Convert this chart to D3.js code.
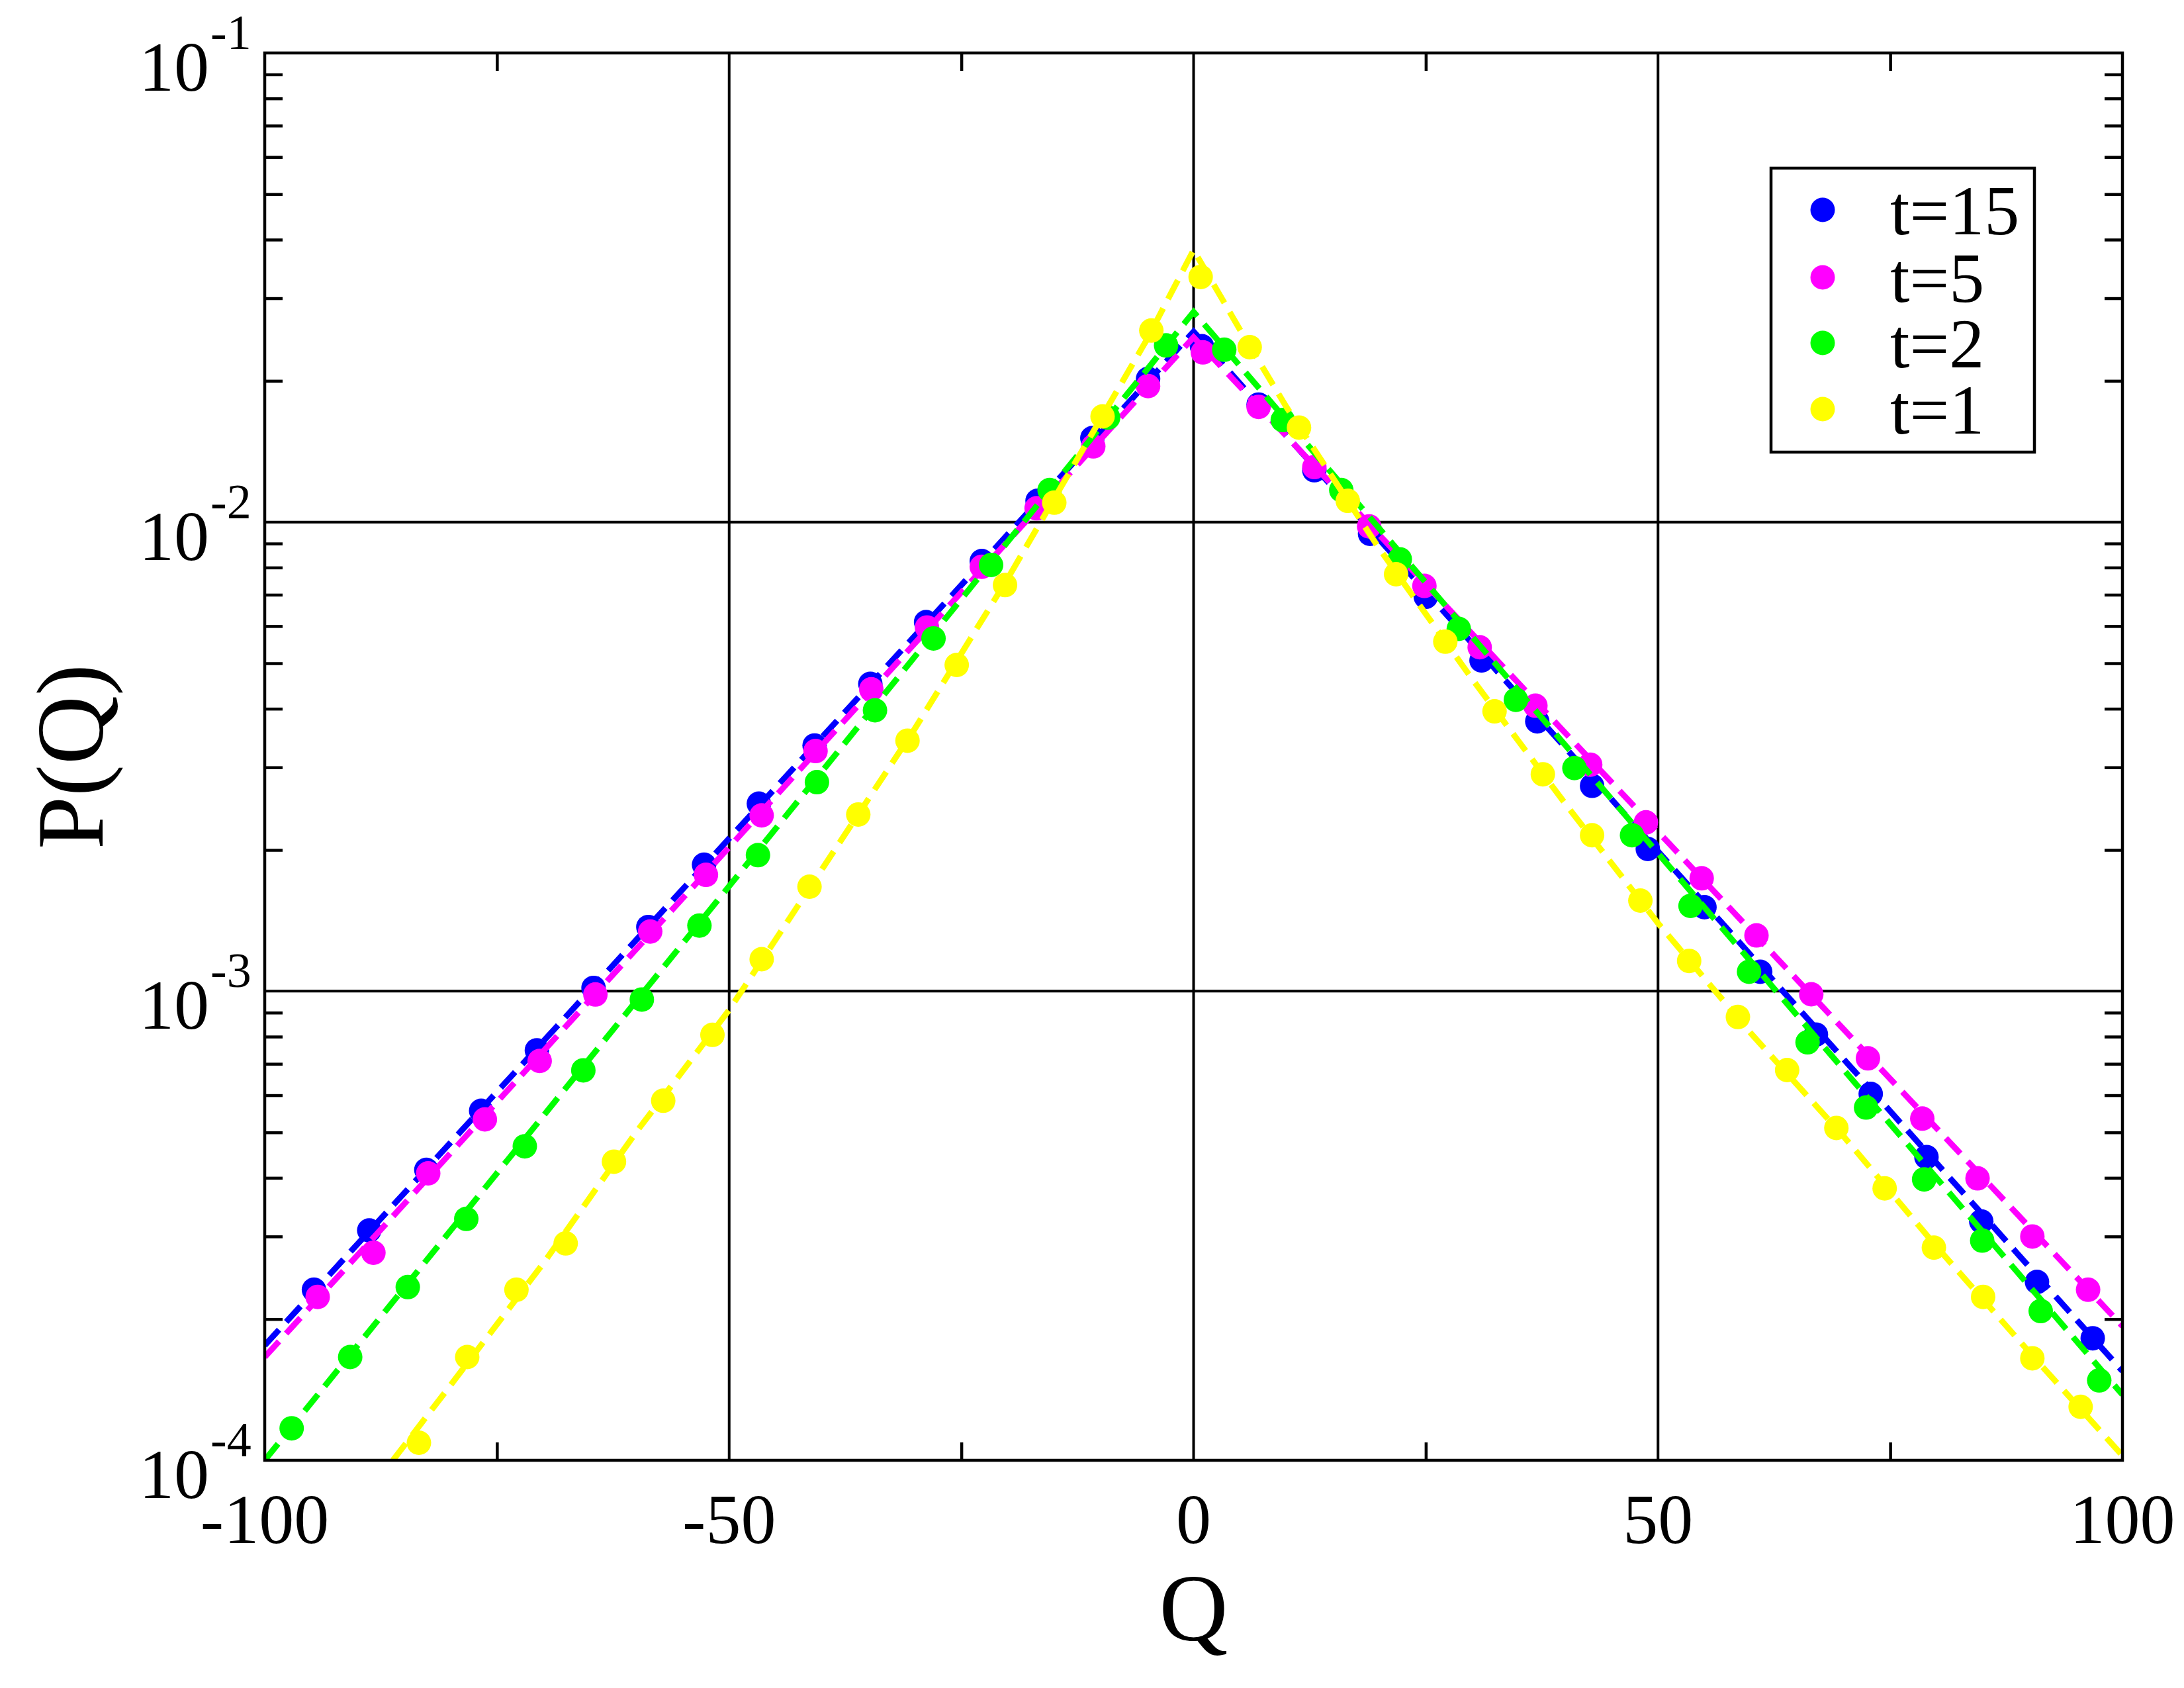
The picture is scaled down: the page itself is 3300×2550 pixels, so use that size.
<!DOCTYPE html>
<html>
<head>
<meta charset="utf-8">
<script src="https://cdn.jsdelivr.net/npm/d3@7"></script>
<style>
  html, body { margin: 0; padding: 0; background: #fff; }
  svg { display: block; }
  text { font-family: "Liberation Serif", "Times New Roman", serif; fill: #000; }
</style>
</head>
<body>
<svg id="chart" width="3300" height="2550"></svg>
<script>
// ---------------- data ----------------
const seriesNames = ["t=15", "t=5", "t=2", "t=1"];
const seriesColors = ["#0000ff", "#ff00ff", "#00ff00", "#ffff00"];

// t=15 (blue)
const q15 = [-94.7, -88.75, -82.6, -76.7, -70.7, -64.6, -58.7, -52.7, -46.8, -40.8, -34.8, -28.8, -22.8, -16.8, -10.9, -4.9, 0.9, 7.0, 13.0, 19.0, 25.0, 31.0, 37.0, 42.9, 48.9, 55.0, 61.0, 67.0, 72.9, 78.9, 84.8, 90.8, 96.8];
const p15 = [2.31e-4, 3.09e-4, 4.16e-4, 5.56e-4, 7.48e-4, 1.016e-3, 1.37e-3, 1.86e-3, 2.51e-3, 3.34e-3, 4.52e-3, 6.12e-3, 8.26e-3, 0.0111, 0.0151, 0.0202, 0.0237, 0.0178, 0.0129, 0.00944, 0.00693, 0.00507, 0.00376, 0.00274, 0.00201, 0.00151, 0.00110, 8.08e-4, 6.04e-4, 4.43e-4, 3.23e-4, 2.40e-4, 1.82e-4];

// t=5 (magenta)
const q5 = [-94.3, -88.3, -82.4, -76.3, -70.4, -64.4, -58.5, -52.5, -46.5, -40.7, -34.7, -28.7, -22.8, -16.9, -10.8, -4.9, 1.0, 7.0, 13.0, 18.9, 24.85, 30.8, 36.8, 42.7, 48.7, 54.7, 60.6, 66.5, 72.6, 78.45, 84.4, 90.3, 96.3];
const p5 = [2.23e-4, 2.77e-4, 4.09e-4, 5.33e-4, 7.1e-4, 9.84e-4, 1.34e-3, 1.77e-3, 2.37e-3, 3.25e-3, 4.40e-3, 5.96e-3, 8.03e-3, 0.0107, 0.0145, 0.0195, 0.0230, 0.0176, 0.0131, 0.00979, 0.00731, 0.00541, 0.00406, 0.00304, 0.00229, 0.00174, 0.001315, 9.85e-4, 7.19e-4, 5.35e-4, 3.99e-4, 3.0e-4, 2.31e-4];

// t=2 (green)
const q2 = [-97.1, -90.8, -84.6, -78.3, -72.0, -65.7, -59.4, -53.2, -46.9, -40.55, -34.3, -28.0, -21.8, -15.5, -9.2, -2.96, 3.3, 9.6, 15.9, 22.2, 28.55, 34.7, 41.0, 47.2, 53.5, 59.8, 66.1, 72.4, 78.65, 84.9, 91.2, 97.5];
const p2 = [1.17e-4, 1.66e-4, 2.34e-4, 3.27e-4, 4.67e-4, 6.78e-4, 9.6e-4, 1.38e-3, 1.95e-3, 2.79e-3, 3.97e-3, 5.65e-3, 8.1e-3, 0.0117, 0.0167, 0.0238, 0.0233, 0.0165, 0.0117, 0.00833, 0.00592, 0.00418, 0.00299, 0.00215, 0.00152, 0.00110, 7.78e-4, 5.65e-4, 3.97e-4, 2.94e-4, 2.08e-4, 1.48e-4];

// t=1 (yellow)
const q1 = [-83.4, -78.2, -72.9, -67.6, -62.4, -57.1, -51.8, -46.5, -41.35, -36.1, -30.8, -25.5, -20.3, -15.0, -9.8, -4.55, 0.76, 6.04, 11.35, 16.6, 21.8, 27.1, 32.4, 37.6, 42.9, 48.1, 53.35, 58.6, 63.9, 69.2, 74.4, 79.7, 85.0, 90.3, 95.5];
const p1 = [1.09e-4, 1.66e-4, 2.31e-4, 2.90e-4, 4.33e-4, 5.84e-4, 8.07e-4, 1.17e-3, 1.67e-3, 2.38e-3, 3.42e-3, 4.96e-3, 7.34e-3, 0.0110, 0.0168, 0.0256, 0.0333, 0.0236, 0.0159, 0.0111, 0.00774, 0.00556, 0.00395, 0.0029, 0.00215, 0.00156, 0.00116, 8.81e-4, 6.79e-4, 5.11e-4, 3.80e-4, 2.84e-4, 2.23e-4, 1.65e-4, 1.30e-4];

// fitted (dashed) curves: vertices [Q, P]
const fit15 = [[-100, 1.758e-4], [0, 0.02547], [100, 1.549e-4]];
const fit5  = [[-100, 1.660e-4], [0, 0.02477], [100, 1.932e-4]];
const fit2  = [[-100, 1.0e-4],   [0, 0.02805], [100, 1.380e-4]];
const fit1  = [[-86.2, 1.0e-4], [-80, 1.445e-4], [-70, 2.630e-4], [-60, 5.01e-4], [-50, 9.12e-4],
               [-40, 1.820e-3], [-30, 3.631e-3], [-20, 7.586e-3], [-10, 0.01660], [-5, 0.02455],
               [0, 0.03802], [5, 0.02570], [10, 0.01758], [20, 8.77e-3], [30, 4.624e-3],
               [40, 2.512e-3], [50, 1.396e-3], [60, 8.13e-4], [70, 4.898e-4], [80, 2.851e-4],
               [90, 1.698e-4], [100, 1.023e-4]];

const xTickValues = [-100, -50, 0, 50, 100];
const xTickLabels = ["-100", "-50", "0", "50", "100"];
const xMinorTicks = [-75, -25, 25, 75];
const xGridValues = [-50, 0, 50];
const yTickValues = [1e-4, 1e-3, 1e-2, 1e-1];
const yTickExponents = ["-4", "-3", "-2", "-1"];
const yGridValues = [1e-3, 1e-2];
const xTitle = "Q";
const yTitle = "P(Q)";

// ---------------- layout ----------------
const L = 400, R = 3207, T = 80, B = 2206;
const svg = d3.select("#chart");

const x = d3.scaleLinear().domain([-100, 100]).range([L, R]);
const y = d3.scaleLog().domain([1e-4, 1e-1]).range([B, T]);

const yMinorTicks = [];
[1e-4, 1e-3, 1e-2].forEach(d => { for (let k = 2; k <= 9; k++) yMinorTicks.push(d * k); });

const tickLen = 27;
const lw = 4.5;

// gridlines
const grid = svg.append("g").attr("stroke", "#000").attr("stroke-width", 4);
grid.selectAll("line.gx").data(xGridValues).join("line")
  .attr("x1", d => x(d)).attr("x2", d => x(d)).attr("y1", T).attr("y2", B);
grid.selectAll("line.gy").data(yGridValues).join("line")
  .attr("x1", L).attr("x2", R).attr("y1", d => y(d)).attr("y2", d => y(d));

// minor ticks via d3 axes (pointing inward)
function styleAxis(g) {
  g.select(".domain").remove();
  g.selectAll(".tick line").attr("stroke", "#000").attr("stroke-width", lw);
  g.selectAll(".tick text").remove();
}
svg.append("g").attr("transform", `translate(0,${B})`)
  .call(d3.axisTop(x).tickValues(xMinorTicks).tickSize(tickLen).tickFormat("")).call(styleAxis);
svg.append("g").attr("transform", `translate(0,${T})`)
  .call(d3.axisBottom(x).tickValues(xMinorTicks).tickSize(tickLen).tickFormat("")).call(styleAxis);
svg.append("g").attr("transform", `translate(${L},0)`)
  .call(d3.axisRight(y).tickValues(yMinorTicks).tickSize(tickLen).tickFormat("")).call(styleAxis);
svg.append("g").attr("transform", `translate(${R},0)`)
  .call(d3.axisLeft(y).tickValues(yMinorTicks).tickSize(tickLen).tickFormat("")).call(styleAxis);

// clip
svg.append("defs").append("clipPath").attr("id", "plotclip")
  .append("rect").attr("x", L).attr("y", T).attr("width", R - L).attr("height", B - T);

const plot = svg.append("g").attr("clip-path", "url(#plotclip)");
const line = d3.line().x(d => x(d[0])).y(d => y(d[1]));

const series = [
  { q: q15, p: p15, fit: fit15 },
  { q: q5,  p: p5,  fit: fit5 },
  { q: q2,  p: p2,  fit: fit2 },
  { q: q1,  p: p1,  fit: fit1 }
];
const rDot = 18.5;
series.forEach((s, i) => {
  const g = plot.append("g");
  g.append("path").attr("d", line(s.fit)).attr("fill", "none")
    .attr("stroke", seriesColors[i]).attr("stroke-width", 9)
    .attr("stroke-dasharray", "32,16");
  g.selectAll("circle").data(s.q.map((q, k) => [q, s.p[k]])).join("circle")
    .attr("cx", d => x(d[0])).attr("cy", d => y(d[1])).attr("r", rDot)
    .attr("fill", seriesColors[i]);
});

// frame
svg.append("rect").attr("x", L).attr("y", T).attr("width", R - L).attr("height", B - T)
  .attr("fill", "none").attr("stroke", "#000").attr("stroke-width", lw);

// x tick labels
svg.append("g").selectAll("text").data(xTickValues).join("text")
  .attr("x", d => x(d)).attr("y", 2331).attr("text-anchor", "middle")
  .attr("font-size", 106).text((d, i) => xTickLabels[i]);

// y tick labels with superscripts
const yl = svg.append("g");
yTickValues.forEach((v, i) => {
  const yy = y(v);
  yl.append("text").attr("x", 316).attr("y", yy + 57).attr("text-anchor", "end")
    .attr("font-size", 106).text("10");
  yl.append("text").attr("x", 318).attr("y", yy - 6).attr("text-anchor", "start")
    .attr("font-size", 74).text(yTickExponents[i]);
});

// axis titles
svg.append("text").attr("x", (L + R) / 2).attr("y", 2478).attr("text-anchor", "middle")
  .attr("font-size", 144).text(xTitle);
svg.append("text").attr("transform", `translate(155,${(T + B) / 2}) rotate(-90)`)
  .attr("text-anchor", "middle").attr("font-size", 144).text(yTitle);

// legend
const lg = svg.append("g");
lg.append("rect").attr("x", 2676).attr("y", 254).attr("width", 398).attr("height", 429)
  .attr("fill", "#fff").attr("stroke", "#000").attr("stroke-width", lw);
const legY = [317, 419, 518, 618];
seriesNames.forEach((n, i) => {
  lg.append("circle").attr("cx", 2754).attr("cy", legY[i]).attr("r", rDot).attr("fill", seriesColors[i]);
  lg.append("text").attr("x", 2856).attr("y", legY[i] + 37).attr("font-size", 106).text(n);
});
</script>
</body>
</html>
